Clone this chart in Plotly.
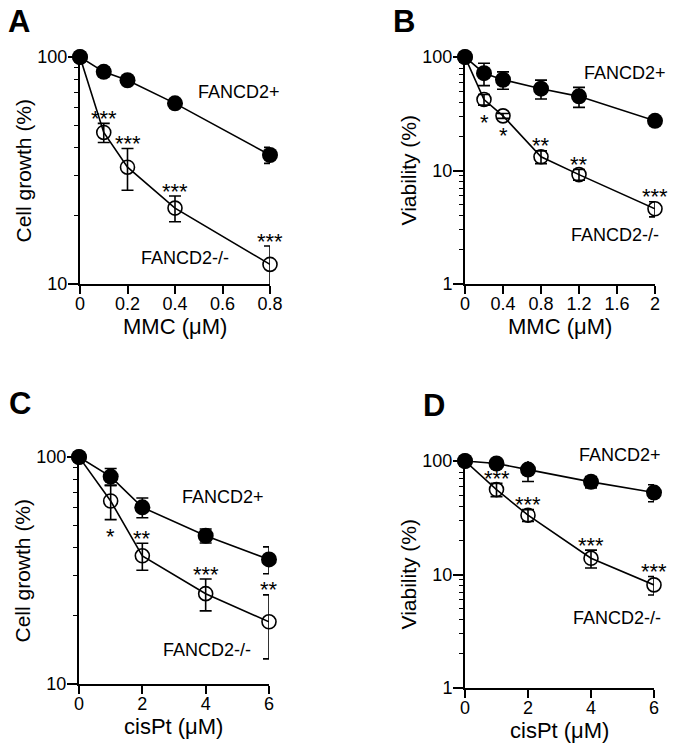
import plotly.graph_objects as go
import math

W, H = 674, 750
FONT = "Arial, Liberation Sans, sans-serif"

# ---------------- data ----------------
# Panel A: MMC, cell growth
a_x = [0, 0.1, 0.2, 0.4, 0.8]
a_pos = [100, 86, 79, 62.5, 37]
a_pos_err = [0, 4, 2.5, 2.5, 3]
a_neg = [100, 46.5, 32.7, 21.6, 12.2]
a_neg_err = [0, 4.5, 6.8, 2.8, 2.5]
a_stars = ["", "***", "***", "***", "***"]
a_star_side = ["", "above", "above", "above", "above"]

# Panel B: MMC, viability
b_x = [0, 0.2, 0.4, 0.8, 1.2, 2]
b_pos = [100, 72, 63, 52.6, 45, 27.4]
b_pos_err = [0, 16, 11, 10, 9, 2.2]
b_neg = [100, 42.2, 30.3, 13.2, 9.2, 4.6]
b_neg_err = [0, 4.5, 1.5, 1.7, 1.0, 0.7]
b_stars = ["", "*", "*", "**", "**", "***"]
b_star_side = ["", "below", "below", "above", "above", "above"]

# Panel C: cisPt, cell growth
c_x = [0, 1, 2, 4, 6]
c_pos = [100, 82, 60, 45, 35.4]
c_pos_err = [0, 7, 6, 3.2, 4.8]
c_neg = [100, 64, 36.7, 25, 18.8]
c_neg_err = [0, 11, 5, 4, 5.9]
c_stars = ["", "*", "**", "***", "**"]
c_star_side = ["", "below", "above", "above", "above"]

# Panel D: cisPt, viability
d_x = [0, 1, 2, 4, 6]
d_pos = [100, 95, 84, 65.5, 52.7]
d_pos_err = [0, 3, 18, 7.5, 9]
d_neg = [100, 56, 33.3, 13.9, 8.1]
d_neg_err = [0, 7.5, 4, 2.5, 1.5]
d_stars = ["", "***", "***", "***", "***"]
d_star_side = ["", "above", "above", "above", "above"]

panel_letters = ["A", "B", "C", "D"]
y_titles = ["Cell growth (%)", "Viability (%)", "Cell growth (%)", "Viability (%)"]
x_titles = ["MMC (μM)", "MMC (μM)", "cisPt (μM)", "cisPt (μM)"]
x_ticks = [[0, 0.2, 0.4, 0.6, 0.8], [0, 0.4, 0.8, 1.2, 1.6, 2], [0, 2, 4, 6], [0, 2, 4, 6]]
x_ticktext = [["0", "0.2", "0.4", "0.6", "0.8"], ["0", "0.4", "0.8", "1.2", "1.6", "2"],
              ["0", "2", "4", "6"], ["0", "2", "4", "6"]]
y_ticks = [[10, 100], [1, 10, 100], [10, 100], [1, 10, 100]]
y_ranges = [[10, 100], [1, 100], [10, 100], [1, 100]]
x_ranges = [[0, 0.8], [0, 2], [0, 6], [0, 6]]
# series labels (x, y in data units, extra pixel lift)
lab_pos = [(0.67, 70, 0), (1.684, 72, 0), (4.55, 66.7, 0), (4.92, 100, 6)]
lab_neg = [(0.442, 13.0, 0), (1.579, 2.7, 0), (4.04, 14.1, 0), (4.83, 4.14, 0)]

# ---------------- layout geometry (window pixels) ----------------
# (left, right, top, bottom) of each plot area
boxes = [(80, 270, 57, 284), (465, 655, 57, 284), (79, 269, 457, 684), (465, 654, 461, 688)]
letter_pos = [(19, 22), (404, 22), (20, 404), (434, 405)]

panels = [
    (a_x, a_pos, a_pos_err, a_neg, a_neg_err, a_stars, a_star_side),
    (b_x, b_pos, b_pos_err, b_neg, b_neg_err, b_stars, b_star_side),
    (c_x, c_pos, c_pos_err, c_neg, c_neg_err, c_stars, c_star_side),
    (d_x, d_pos, d_pos_err, d_neg, d_neg_err, d_stars, d_star_side),
]

fig = go.Figure()
annotations = []
layout = dict(width=W, height=H, margin=dict(l=0, r=0, t=0, b=0, autoexpand=False),
              paper_bgcolor="white", plot_bgcolor="white", showlegend=False,
              font=dict(family=FONT, color="black"))

def px2paper_x(p):
    return p / W

def px2paper_y(p):
    return 1 - p / H

for i, (xs, pos, pos_e, neg, neg_e, stars, sides) in enumerate(panels):
    n = i + 1
    xa = "xaxis" if n == 1 else f"xaxis{n}"
    ya = "yaxis" if n == 1 else f"yaxis{n}"
    xr = "x" if n == 1 else f"x{n}"
    yr = "y" if n == 1 else f"y{n}"
    l, r, t, b = boxes[i]

    # open (FANCD2-/-) first so filled sits on top at x=0
    fig.add_trace(go.Scatter(
        x=xs, y=neg, xaxis=xr, yaxis=yr, mode="lines+markers", cliponaxis=False,
        line=dict(color="black", width=1.6),
        marker=dict(symbol="circle-open", size=14, color="black", line=dict(width=1.6)),
        error_y=dict(type="data", array=neg_e, symmetric=True, color="black",
                     thickness=1.6, width=6),
    ))
    fig.add_trace(go.Scatter(
        x=xs, y=pos, xaxis=xr, yaxis=yr, mode="lines+markers", cliponaxis=False,
        line=dict(color="black", width=1.6),
        marker=dict(symbol="circle", size=16, color="black"),
        error_y=dict(type="data", array=pos_e, symmetric=True, color="black",
                     thickness=1.6, width=6),
    ))

    yt = y_ticks[i]
    lo, hi = y_ranges[i]
    minor_vals = []
    dec = lo
    while dec < hi:
        minor_vals += [dec * k for k in range(2, 10)]
        dec *= 10

    layout[xa] = dict(
        domain=[px2paper_x(l), px2paper_x(r)], anchor=yr, range=x_ranges[i],
        tickmode="array", tickvals=x_ticks[i], ticktext=x_ticktext[i],
        ticks="outside", ticklen=8, tickwidth=1.5, tickcolor="black",
        ticklabelstandoff=-6,
        showline=True, linewidth=2, linecolor="black", showgrid=False, zeroline=False,
        tickfont=dict(size=18, family=FONT, color="black"),
    )
    layout[ya] = dict(
        domain=[px2paper_y(b), px2paper_y(t)], anchor=xr, type="log",
        range=[math.log10(lo), math.log10(hi)],
        tickmode="array", tickvals=yt, ticktext=[str(v) for v in yt],
        ticks="outside", ticklen=10, tickwidth=1.5, tickcolor="black",
        ticklabelstandoff=-3,
        minor=dict(tickmode="array", tickvals=minor_vals, ticks="outside", ticklen=4,
                   tickwidth=1, tickcolor="black", showgrid=False),
        showline=True, linewidth=2, linecolor="black", showgrid=False, zeroline=False,
        tickfont=dict(size=18, family=FONT, color="black"),
    )

    # stars
    for xv, v, e, s, side in zip(xs, neg, neg_e, stars, sides):
        if not s:
            continue
        if side == "above":
            yv, shift = v + e, 5
        else:
            yv, shift = v - e, -17
        annotations.append(dict(x=xv, y=math.log10(yv), xref=xr, yref=yr, text=s,
                                showarrow=False, xanchor="center", yanchor="middle", yshift=shift,
                                font=dict(size=22, family=FONT, color="black")))

    # series labels
    annotations.append(dict(x=lab_pos[i][0], y=math.log10(lab_pos[i][1]), yshift=lab_pos[i][2],
                            xref=xr, yref=yr,
                            text="FANCD2+", showarrow=False, xanchor="center", yanchor="middle",
                            font=dict(size=18, family=FONT, color="black")))
    annotations.append(dict(x=lab_neg[i][0], y=math.log10(lab_neg[i][1]), yshift=lab_neg[i][2],
                            xref=xr, yref=yr,
                            text="FANCD2-/-", showarrow=False, xanchor="center", yanchor="middle",
                            font=dict(size=18, family=FONT, color="black")))

    # axis titles
    annotations.append(dict(x=px2paper_x((l + r) / 2), y=px2paper_y(b + 42), xref="paper", yref="paper",
                            text=x_titles[i], showarrow=False, xanchor="center", yanchor="middle",
                            font=dict(size=22, family=FONT, color="black")))
    annotations.append(dict(x=px2paper_x(l - 57), y=px2paper_y((t + b) / 2), xref="paper", yref="paper",
                            text=y_titles[i], showarrow=False, textangle=-90,
                            xanchor="center", yanchor="middle",
                            font=dict(size=21, family=FONT, color="black")))
    # panel letter
    lx, ly = letter_pos[i]
    annotations.append(dict(x=px2paper_x(lx), y=px2paper_y(ly), xref="paper", yref="paper",
                            text=f"<b>{panel_letters[i]}</b>", showarrow=False,
                            xanchor="center", yanchor="middle",
                            font=dict(size=31, family=FONT, color="black")))

layout["annotations"] = annotations
fig.update_layout(**layout)
# remove the default 8px page margin so the figure fills the window exactly
fig.write_html("out.html", config={"displayModeBar": False},
               post_script="document.body.style.margin='0';")
